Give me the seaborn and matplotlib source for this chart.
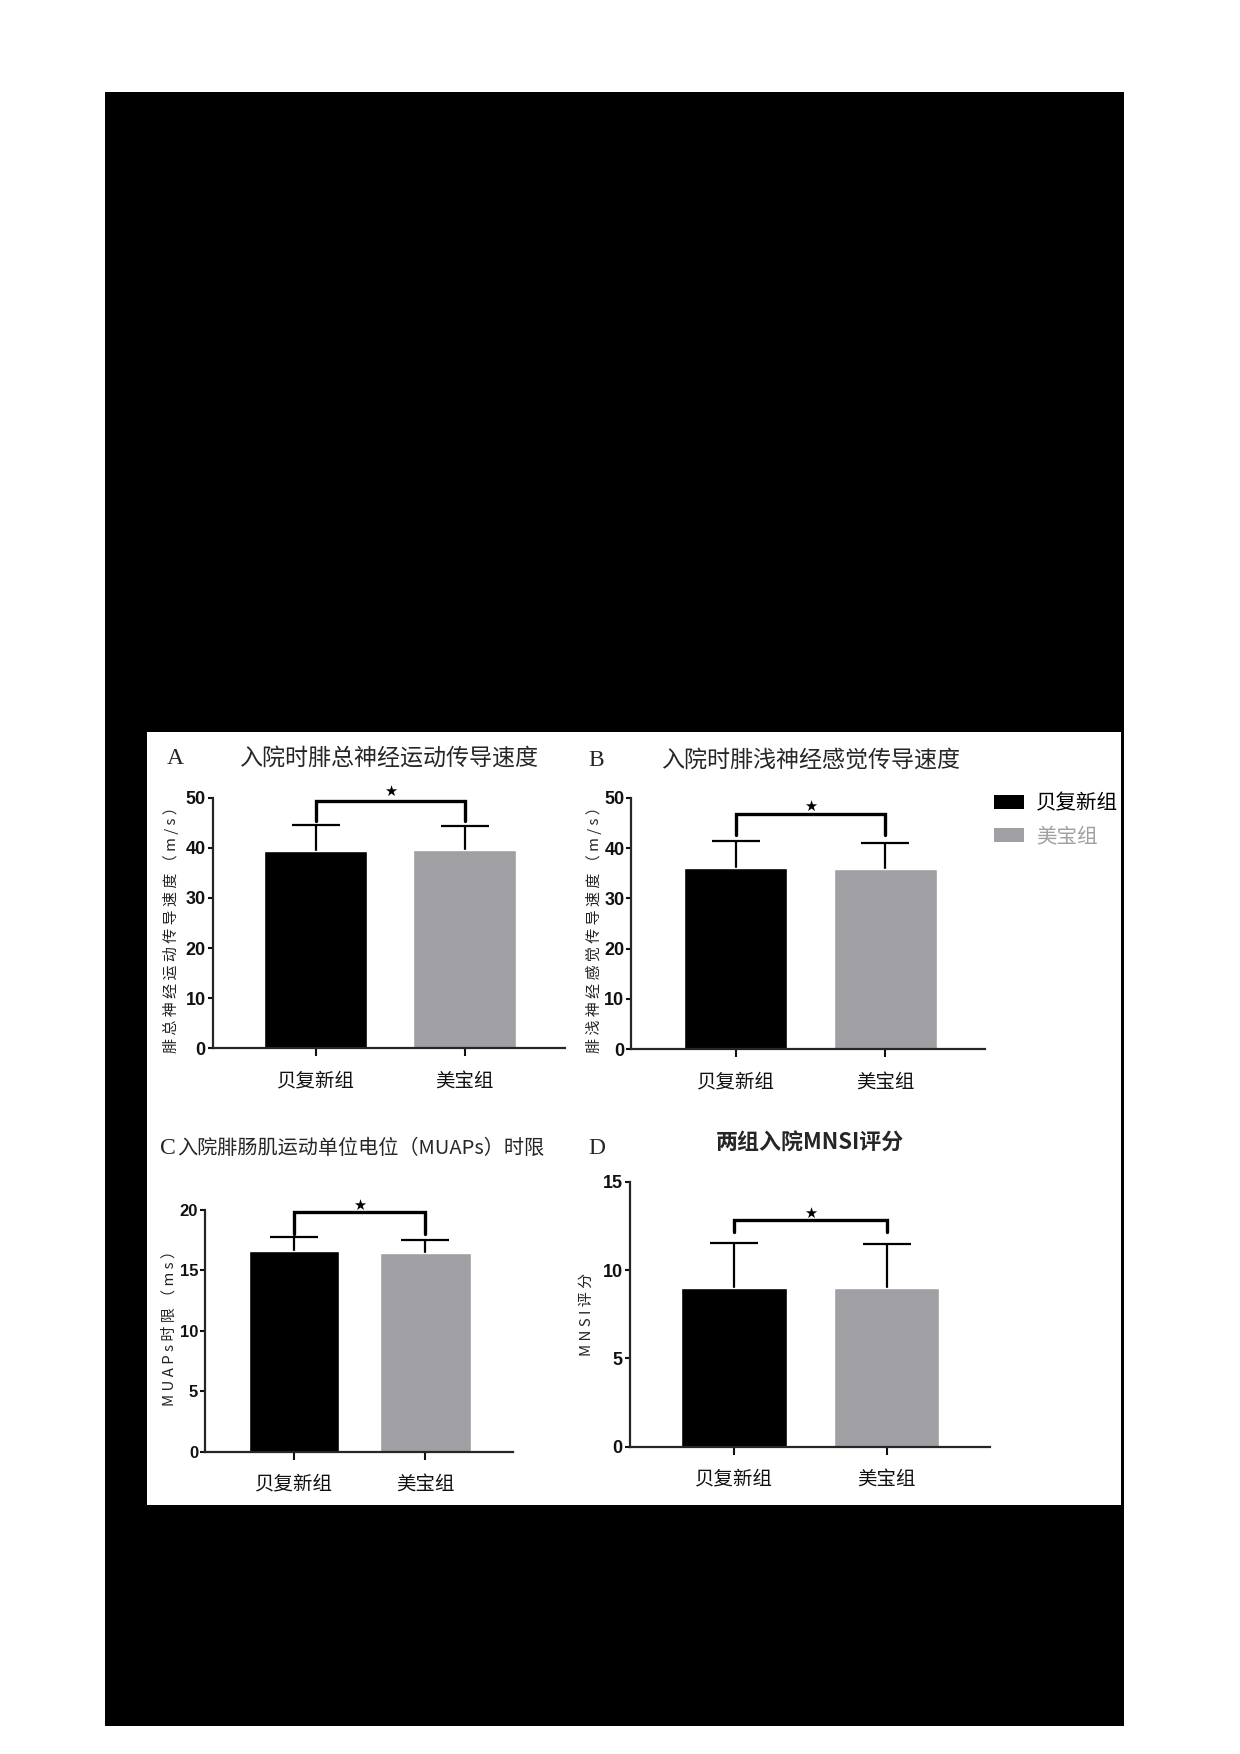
import matplotlib
matplotlib.use('Agg')
import matplotlib.pyplot as plt
from matplotlib.patches import Rectangle, Patch
import seaborn as sns
import pandas as pd

sns.set_style('ticks')
plt.rcParams['font.family'] = ['Noto Sans CJK SC', 'DejaVu Sans']

W, H = 1240, 1754

groups = ['贝复新组', '美宝组']
palette = ['#000000', '#a0a0a4']

# panel A: 腓总神经运动传导速度
a_mean = [39.4, 39.6]
a_sd = [5.2, 4.8]
# panel B: 腓浅神经感觉传导速度
b_mean = [36.0, 35.8]
b_sd = [5.3, 5.1]
# panel C: MUAPs 时限
c_mean = [16.6, 16.45]
c_sd = [1.15, 1.05]
# panel D: MNSI 评分
d_mean = [8.97, 9.0]
d_sd = [2.58, 2.47]

# significance brackets (top, leg end, star)
a_sig = [49.3, 45.3, 51.2]
b_sig = [46.7, 42.5, 48.2]
c_sig = [19.87, 18.0, 20.4]
d_sig = [12.83, 12.17, 13.2]

a_ticks = [0, 10, 20, 30, 40, 50]
b_ticks = [0, 10, 20, 30, 40, 50]
c_ticks = [0, 5, 10, 15, 20]
d_ticks = [0, 5, 10, 15]

fig = plt.figure(figsize=(W / 100, H / 100), dpi=100)
fig.patch.set_facecolor('white')


def frac_box(l, r, top, bot):
    return [l / W, 1 - bot / H, (r - l) / W, (bot - top) / H]


# black page block and white figure area
fig.patches.append(Rectangle((105 / W, 1 - 1726 / H), (1124 - 105) / W, (1726 - 92) / H,
                             transform=fig.transFigure, facecolor='black', edgecolor='none', zorder=-3))
fig.patches.append(Rectangle((147 / W, 1 - 1505 / H), (1121 - 147) / W, (1505 - 732) / H,
                             transform=fig.transFigure, facecolor='white', edgecolor='none', zorder=-2))


def panel(box, xlim, means, sds, sig, ticks, tick_font, tick_size):
    ax = fig.add_axes(frac_box(*box))
    ax.set_zorder(1)
    ax.set_facecolor('none')
    df = pd.DataFrame({'group': groups, 'value': means})
    sns.barplot(data=df, x='group', y='value', hue='group', palette=palette,
                width=0.69, saturation=1, errorbar=None, legend=False, ax=ax, zorder=2)
    ax.errorbar([0, 1], means, yerr=sds, fmt='none', ecolor='black',
                elinewidth=1.6, capsize=17, capthick=1.6, zorder=1)
    ax.plot([0, 0, 1, 1], [sig[1], sig[0], sig[0], sig[1]], color='black', lw=2.4,
            solid_joinstyle='miter', zorder=3)
    ax.text(0.5, sig[2], '★', ha='center', va='center', fontsize=10.5,
            family='DejaVu Sans', color='black')
    ax.set_xlim(*xlim)
    ax.set_ylim(ticks[0], ticks[-1])
    ax.set_yticks(ticks)
    ax.set_yticklabels([str(t) for t in ticks], fontsize=tick_size,
                       family=tick_font, fontweight='bold')
    ax.set_xticks([0, 1])
    ax.set_xticklabels(groups, fontsize=14)
    ax.set_xlabel('')
    ax.set_ylabel('')
    sns.despine(ax=ax)
    for s in ['left', 'bottom']:
        ax.spines[s].set_linewidth(1.6)
    ax.tick_params(axis='y', length=3.5, width=1.5, pad=1.5, colors='#111111')
    ax.tick_params(axis='x', length=6, width=1.5, pad=10, colors='#111111')
    return ax


ax_a = panel((212.7, 565, 797.7, 1048.3), (-0.689, 1.672), a_mean, a_sd, a_sig,
             a_ticks, ['Liberation Sans', 'DejaVu Sans'], 13)
ax_b = panel((631.4, 985.3, 797.7, 1049.3), (-0.698, 1.671), b_mean, b_sd, b_sig,
             b_ticks, ['Liberation Sans', 'DejaVu Sans'], 13)
ax_c = panel((205, 513.3, 1210, 1451.7), (-0.678, 1.67), c_mean, c_sd, c_sig,
             c_ticks, ['Liberation Sans Narrow', 'Liberation Sans', 'DejaVu Sans'], 12)
ax_d = panel((629.6, 989.6, 1181.7, 1446.7), (-0.682, 1.673), d_mean, d_sd, d_sig,
             d_ticks, ['Liberation Sans', 'DejaVu Sans'], 13)


def ftext(x, y, s, **kw):
    fig.text(x / W, 1 - y / H, s, **kw)


serif = ['Liberation Serif', 'DejaVu Serif']
# panel letters and titles
ftext(167, 758, 'A', family=serif, fontsize=17, va='center', ha='left')
ftext(389, 758, '入院时腓总神经运动传导速度', fontsize=16.6, va='center', ha='center')
ftext(588, 761, 'B', family=serif, fontsize=17, va='center', ha='left')
ftext(811, 761, '入院时腓浅神经感觉传导速度', fontsize=16.6, va='center', ha='center')
ftext(160, 1148, 'C', family=serif, fontsize=17, va='center', ha='left')
ftext(177, 1148, '入院腓肠肌运动单位电位（MUAPs）时限', fontsize=14.5, va='center', ha='left')
ftext(588, 1148, 'D', family=serif, fontsize=17, va='center', ha='left')
ftext(810, 1143, '两组入院MNSI评分', fontsize=15.8, va='center', ha='center', fontweight='bold')

# y axis labels (letter-spaced as in the source figure)
ylab_kw = dict(rotation=90, va='center', ha='center', fontsize=10.8, color='#222222')
ftext(171, 926, ' '.join('腓总神经运动传导速度（m/s）'), **ylab_kw)
ftext(594, 926, ' '.join('腓浅神经感觉传导速度（m/s）'), **ylab_kw)
ftext(169, 1325, ' '.join('MUAPs时限（ms）'), **ylab_kw)
ftext(587, 1314, ' '.join('MNSI评分'), **ylab_kw)

# legend
handles = [Patch(facecolor=c, edgecolor='none') for c in palette]
fig.legend(handles, groups, loc='upper left', bbox_to_anchor=(994 / W, 1 - 792 / H),
           bbox_transform=fig.transFigure, frameon=False, fontsize=14.8,
           handlelength=1.45, handleheight=0.65, handletextpad=0.6, labelspacing=0.55,
           borderpad=0, borderaxespad=0, labelcolor=palette)

fig.savefig('out.png', dpi=100)
